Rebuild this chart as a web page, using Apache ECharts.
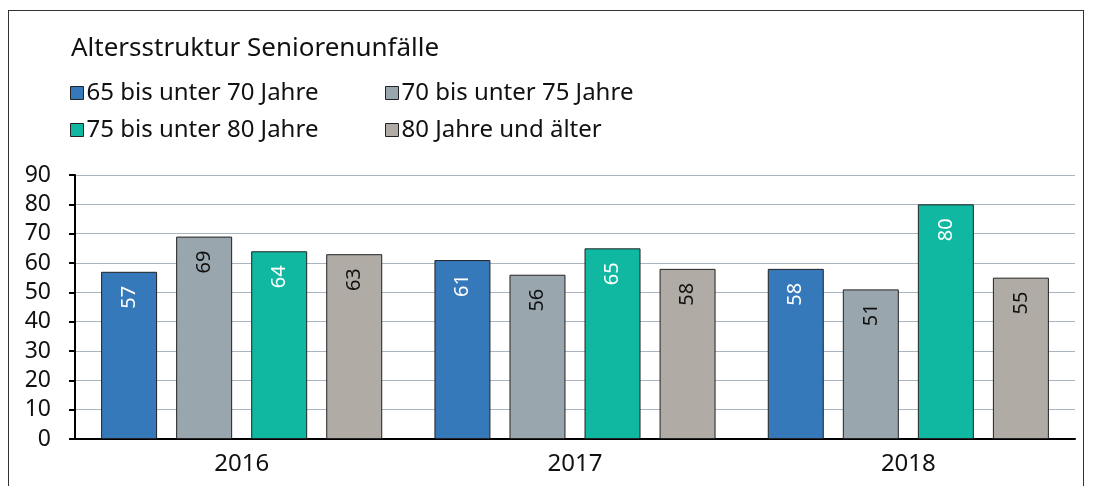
<!DOCTYPE html>
<html>
<head>
<meta charset="utf-8">
<script src="https://cdn.jsdelivr.net/npm/echarts@6/dist/echarts.min.js"></script>
<style>
    html, body { margin: 0; padding: 0; background: #fff; }
    #rahmen { position: absolute; left: 8px; top: 10px; width: 1076px; height: 600px; border: 1px solid #333; box-sizing: border-box; }
    #chart { position: absolute; left: 0; top: 0; width: 1096px; height: 486px; }
</style>
</head>
<body>
<div id="rahmen"></div>
<div id="chart"></div>
<script>
// Daten
var jahre = ["2016", "2017", "2018"];
var gruppen = ["65 bis unter 70 Jahre", "70 bis unter 75 Jahre", "75 bis unter 80 Jahre", "80 Jahre und älter"];
var werte65 = [57, 61, 58];
var werte70 = [69, 56, 51];
var werte75 = [64, 65, 80];
var werte80 = [63, 58, 55];

var farben = ["#3679ba", "#9aa6ae", "#10b8a1", "#b0aba4"];
var labelFarben = ["#ffffff", "#111111", "#ffffff", "#111111"];
var schrift = "'Noto Sans', Lato, sans-serif";

window.onload = function () {
    var myChart = echarts.init(document.getElementById("chart"));

    // eine Reihe bauen
    function reihe(i, daten) {
        return {
            name: gruppen[i],
            type: "bar",
            barWidth: 56,
            barGap: "34%",
            itemStyle: {
                color: farben[i],
                borderColor: "#222",
                borderWidth: 1
            },
            label: {
                show: true,
                position: "insideTop",
                rotate: 90,
                align: "right",
                verticalAlign: "middle",
                distance: 14,
                color: labelFarben[i],
                fontSize: 20,
                fontFamily: schrift
            },
            data: daten
        };
    }

    // Legende: jedes Element einzeln platziert
    var legendPos = [[70, 81], [385, 81], [70, 118], [385, 118]];
    var legenden = gruppen.map(function (g, i) {
        return {
            data: [g],
            left: legendPos[i][0],
            top: legendPos[i][1],
            icon: "rect",
            itemWidth: 13,
            itemHeight: 13,
            itemGap: 0,
            padding: 0,
            selectedMode: false,
            itemStyle: { borderColor: "#222", borderWidth: 1 },
            textStyle: { fontSize: 24, color: "#111", fontFamily: schrift, padding: [0, 0, 0, -2] }
        };
    });

    var option = {
        animation: false,
        title: {
            text: "Altersstruktur Seniorenunfälle",
            left: 66,
            top: 31,
            textStyle: { fontSize: 26, fontWeight: "normal", color: "#111", fontFamily: schrift }
        },
        legend: legenden,
        grid: {
            left: 75,
            right: 21,
            top: 175,
            bottom: 47
        },
        xAxis: {
            type: "category",
            data: jahre,
            axisLine: { lineStyle: { color: "#000", width: 2 } },
            axisTick: { length: 9, lineStyle: { color: "#000", width: 2 } },
            axisLabel: { fontSize: 24, color: "#111", margin: 13, fontFamily: schrift }
        },
        yAxis: {
            type: "value",
            min: 0,
            max: 90,
            interval: 10,
            axisLine: { show: true, lineStyle: { color: "#000", width: 2 } },
            axisTick: { show: true, length: 6, lineStyle: { color: "#000", width: 2 } },
            axisLabel: { fontSize: 23, color: "#111", margin: 24, fontFamily: schrift },
            splitLine: { lineStyle: { color: "#a9b5c1", width: 1 } }
        },
        series: [
            reihe(0, werte65),
            reihe(1, werte70),
            reihe(2, werte75),
            reihe(3, werte80)
        ]
    };

    myChart.setOption(option);
    window.addEventListener("resize", function () {
        myChart.resize();
    });
};
</script>
</body>
</html>
